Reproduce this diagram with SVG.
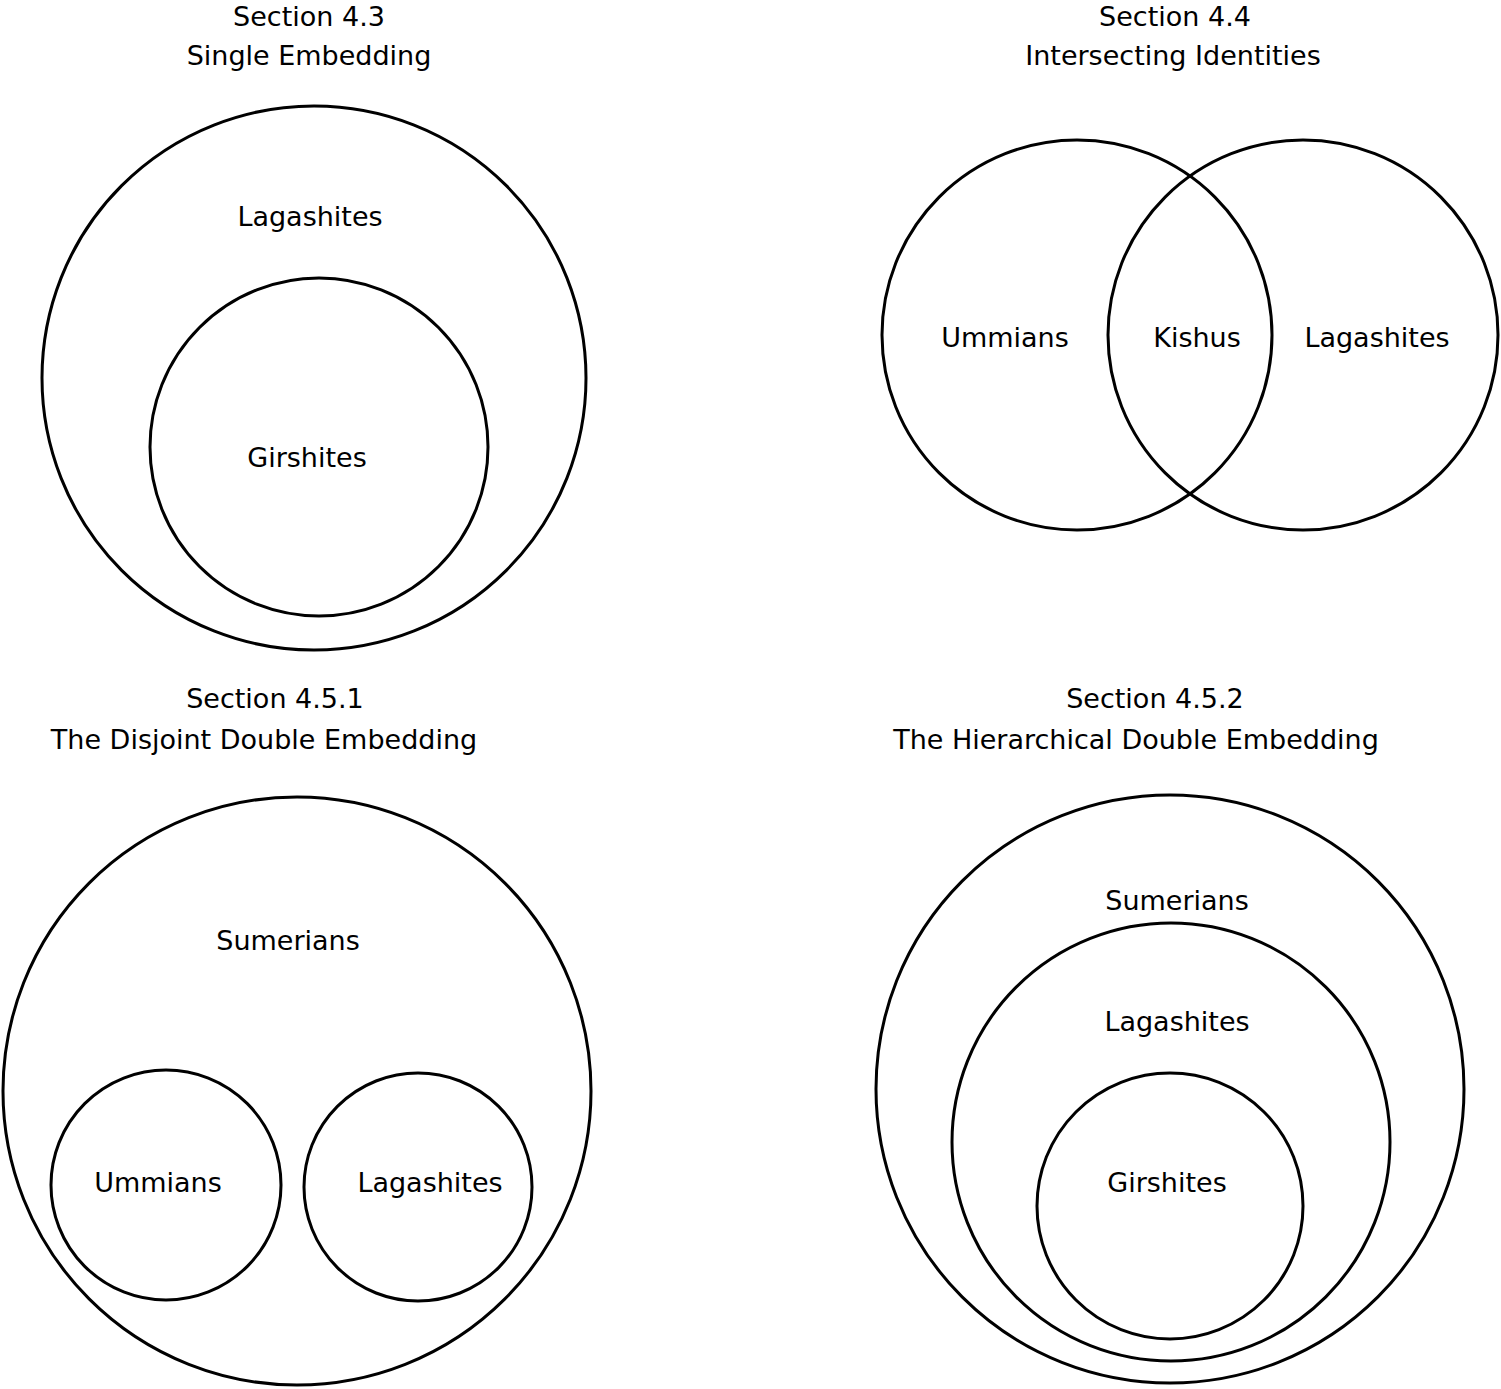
<svg xmlns="http://www.w3.org/2000/svg" width="1501" height="1389" viewBox="0 0 1501 1389">
<style>
circle{fill:none;stroke:#000;stroke-width:3}
text{font-family:"DejaVu Sans",sans-serif;font-size:27px;text-anchor:middle;fill:#000}
</style>
<rect width="1501" height="1389" fill="#fff"/>
<g id="titles">
<text x="309" y="26">Section 4.3</text><text x="309" y="65">Single Embedding</text>
<text x="1175" y="26">Section 4.4</text><text x="1173" y="65">Intersecting Identities</text>
<text x="275" y="708">Section 4.5.1</text><text x="264" y="749">The Disjoint Double Embedding</text>
<text x="1155" y="708">Section 4.5.2</text><text x="1136" y="749">The Hierarchical Double Embedding</text>
</g>
<g id="n43-lagashites"><circle cx="314" cy="378" r="272"/><text x="310" y="226">Lagashites</text></g>
<g id="n43-girshites"><circle cx="319" cy="447" r="169"/><text x="307" y="467">Girshites</text></g>
<g id="n44-ummians"><circle cx="1077" cy="335" r="195"/><text x="1005" y="347">Ummians</text></g>
<g id="n44-lagashites"><circle cx="1303" cy="335" r="195"/><text x="1377" y="347">Lagashites</text></g>
<g id="n44-kishus"><text x="1197" y="347">Kishus</text></g>
<g id="n451-sumerians"><circle cx="297" cy="1091" r="294"/><text x="288" y="950">Sumerians</text></g>
<g id="n451-ummians"><circle cx="166" cy="1185" r="115"/><text x="158" y="1192">Ummians</text></g>
<g id="n451-lagashites"><circle cx="418" cy="1187" r="114"/><text x="430" y="1192">Lagashites</text></g>
<g id="n452-sumerians"><circle cx="1170" cy="1089" r="294"/><text x="1177" y="910">Sumerians</text></g>
<g id="n452-lagashites"><circle cx="1171" cy="1142" r="219"/><text x="1177" y="1031">Lagashites</text></g>
<g id="n452-girshites"><circle cx="1170" cy="1206" r="133"/><text x="1167" y="1192">Girshites</text></g>
<g id="connectors"/>
</svg>
